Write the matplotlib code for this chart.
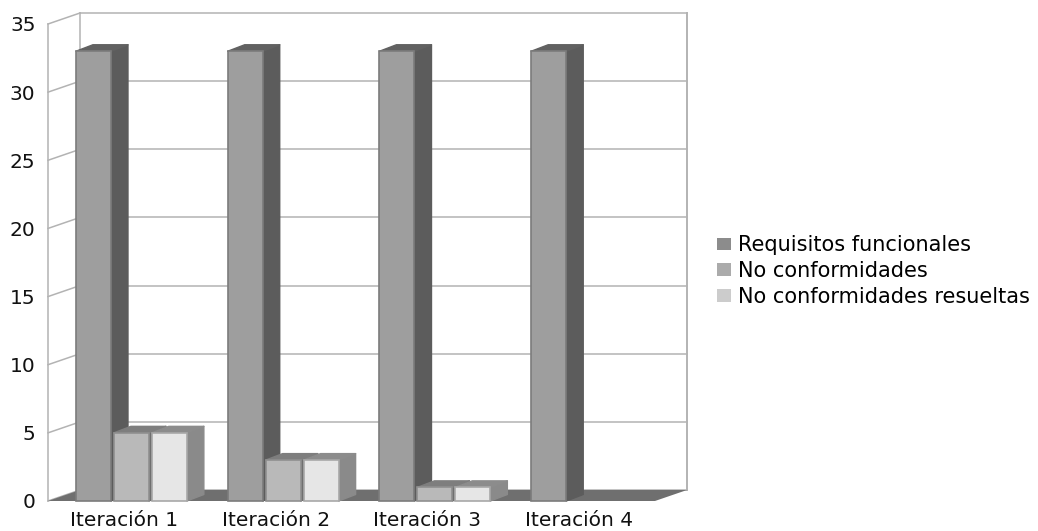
import matplotlib
matplotlib.use("Agg")
import matplotlib.pyplot as plt
from matplotlib.patches import Polygon, Patch
from matplotlib.lines import Line2D

# ---- data ----
categories = ["Iteración 1", "Iteración 2", "Iteración 3", "Iteración 4"]
series_names = ["Requisitos funcionales", "No conformidades", "No conformidades resueltas"]
requisitos = [33, 33, 33, 33]
no_conformidades = [5, 3, 1, 0]
no_conf_resueltas = [5, 3, 1, 0]
y_ticks = [0, 5, 10, 15, 20, 25, 30, 35]

series = [requisitos, no_conformidades, no_conf_resueltas]

# ---- styles ----
front_cols = ["#9e9e9e", "#b9b9b9", "#e6e6e6"]
side_cols = ["#5c5c5c", "#6f6f6f", "#8a8a8a"]
top_cols = ["#616161", "#7e7e7e", "#8c8c8c"]
edge_cols = ["#7c7c7c", "#8f8f8f", "#a8a8a8"]
legend_cols = ["#8c8c8c", "#ababab", "#cccccc"]
grid_col = "#b3b3b3"
floor_col = "#6f6f6f"

FS = 14.5
plt.rcParams["font.family"] = ["DejaVu Sans"]

fig = plt.figure(figsize=(10.38, 5.31), dpi=100)
W, H = 1038, 531
left_px, right_px, bottom_px, top_px = 48, 655, 501, 24
ax = fig.add_axes([left_px / W, 1 - bottom_px / H,
                   (right_px - left_px) / W, (bottom_px - top_px) / H])
n = len(categories)
ax.set_xlim(-0.5, n - 0.5)
ax.set_ylim(0, y_ticks[-1])
for s in ax.spines.values():
    s.set_visible(False)

# conversion of pixel depth offsets into data units
px_x = (right_px - left_px) / n          # px per category unit
px_y = (bottom_px - top_px) / y_ticks[-1]  # px per value unit
WDX, WDY = 32 / px_x, 11 / px_y   # wall depth
BDX, BDY = 17 / px_x, 6.5 / px_y  # bar depth

x0, x1 = -0.5, n - 0.5
ymax = y_ticks[-1]

# back wall grid lines and left wall diagonals
for v in y_ticks:
    ax.add_line(Line2D([x0 + WDX, x1 + WDX], [v + WDY, v + WDY], color=grid_col,
                       lw=1.1, zorder=1, clip_on=False))
    ax.add_line(Line2D([x0, x0 + WDX], [v, v + WDY], color=grid_col,
                       lw=1.1, zorder=1, clip_on=False))
# vertical edges
ax.add_line(Line2D([x0, x0], [0, ymax], color=grid_col, lw=1.1, zorder=1, clip_on=False))
ax.add_line(Line2D([x0 + WDX, x0 + WDX], [WDY, ymax + WDY], color=grid_col, lw=1.1,
                   zorder=1, clip_on=False))
ax.add_line(Line2D([x1 + WDX, x1 + WDX], [WDY, ymax + WDY], color=grid_col, lw=1.4,
                   zorder=1, clip_on=False))

# floor
ax.add_patch(Polygon([[x0, 0], [x1, 0], [x1 + WDX, WDY], [x0 + WDX, WDY]],
                     closed=True, facecolor=floor_col, edgecolor="none",
                     zorder=2, clip_on=False))

# bars
bar_w = 0.231
bar_step = 0.25
bar_start = -0.316
z = 3
for i in range(n):
    for j, vals in enumerate(series):
        v = vals[i]
        if v <= 0:
            continue
        xl = i + bar_start + j * bar_step
        xr = xl + bar_w
        side = Polygon([[xr, 0], [xr + BDX, BDY], [xr + BDX, v + BDY], [xr, v]],
                       closed=True, facecolor=side_cols[j], edgecolor=side_cols[j],
                       lw=1, joinstyle="round", zorder=z, clip_on=False)
        top = Polygon([[xl, v], [xl + BDX, v + BDY], [xr + BDX, v + BDY], [xr, v]],
                      closed=True, facecolor=top_cols[j], edgecolor=top_cols[j],
                      lw=1, joinstyle="round", zorder=z + 0.1, clip_on=False)
        front = Polygon([[xl, 0], [xr, 0], [xr, v], [xl, v]], closed=True,
                        facecolor=front_cols[j], edgecolor=edge_cols[j], lw=1.2,
                        zorder=z + 0.2, clip_on=False)
        ax.add_patch(side)
        ax.add_patch(top)
        ax.add_patch(front)
        z += 1

# ticks
ax.set_yticks(y_ticks)
ax.set_yticklabels([str(t) for t in y_ticks], fontsize=FS, color="#111111")
ax.set_xticks(range(n))
ax.set_xticklabels(categories, fontsize=FS, color="#111111")
ax.tick_params(axis="y", length=0, pad=9)
ax.tick_params(axis="x", length=0, pad=7)

# legend
handles = [Patch(facecolor=c, edgecolor="none") for c in legend_cols]
fig.legend(handles, series_names, loc="center left",
           bbox_to_anchor=(717 / W, 1 - 271 / H), frameon=False, fontsize=15,
           handlelength=0.68, handleheight=0.55, handletextpad=0.35,
           labelspacing=0.28, borderpad=0, borderaxespad=0)

fig.savefig("out.png", dpi=100)
